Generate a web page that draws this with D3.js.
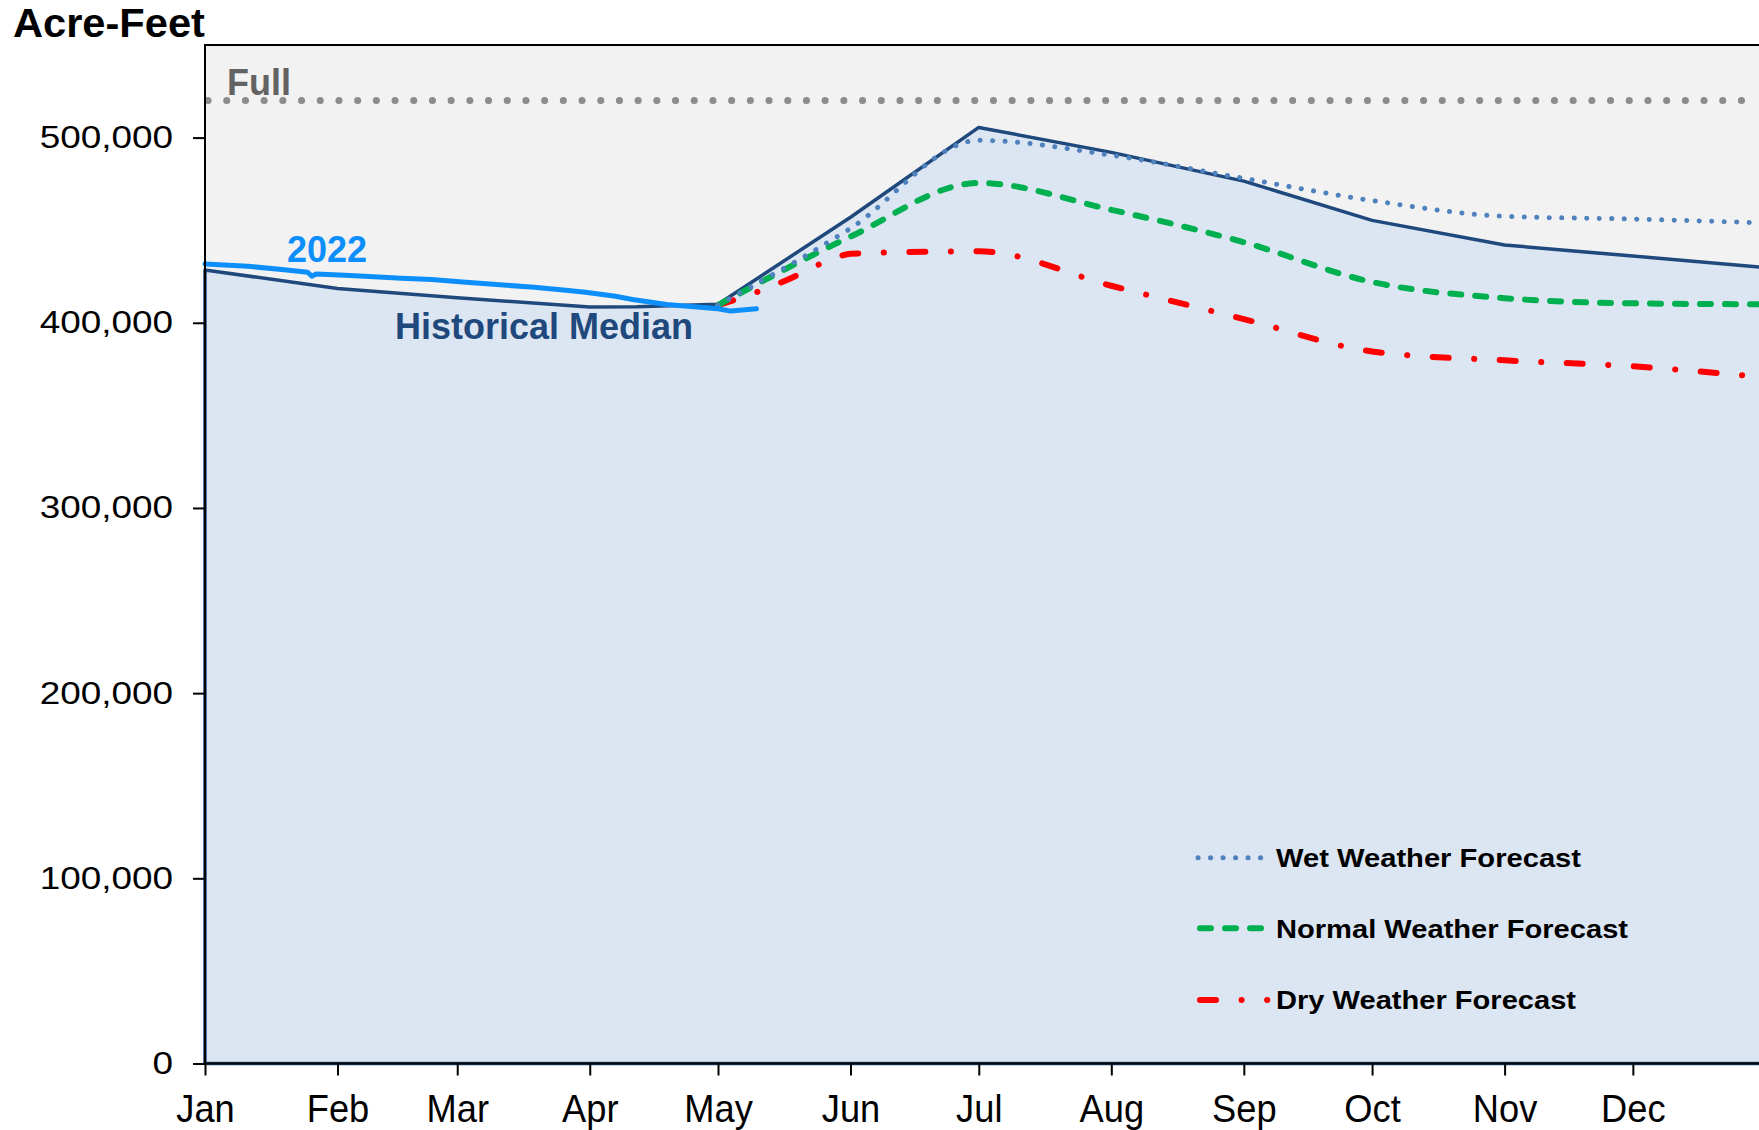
<!DOCTYPE html>
<html lang="en">
<head>
    <meta charset="UTF-8">
    <script src="https://d3js.org/d3.v7.min.js"></script>
    <style>
        body { margin: 0; background: #fff; }
        text { font-family: "Liberation Sans", Arial, sans-serif; }
    </style>
</head>
<body>
    <svg id="chart"></svg>
    <script>
        // values (acre-feet)
        const monthLabels = ["Jan", "Feb", "Mar", "Apr", "May", "Jun", "Jul", "Aug", "Sep", "Oct", "Nov", "Dec"];
        const yTicks = [0, 100000, 200000, 300000, 400000, 500000];
        const fullCapacity = 520000;

        const medianDates = ["2022-01-01", "2022-02-01", "2022-03-01", "2022-04-01", "2022-04-12", "2022-05-01", "2022-06-01",
            "2022-07-01", "2022-08-01", "2022-09-01", "2022-10-01", "2022-11-01", "2022-12-01", "2022-12-31"];
        const medianValues = [428500, 418500, 413500, 408500, 408600, 410000, 457000,
            505500, 492000, 476500, 455300, 442000, 436000, 430000];

        const obsDates = ["2022-01-01", "2022-01-11", "2022-01-19", "2022-01-25", "2022-01-26", "2022-01-27", "2022-02-04",
            "2022-02-16", "2022-02-23", "2022-03-03", "2022-03-11", "2022-03-19", "2022-03-27", "2022-03-31",
            "2022-04-07", "2022-04-11", "2022-04-19", "2022-05-01", "2022-05-04", "2022-05-10"];
        const obsValues = [431800, 430500, 428800, 427300, 425100, 426400, 425500,
            424100, 423400, 421900, 420500, 419200, 417400, 416500,
            414300, 412600, 409900, 407600, 406300, 407600];

        const forecastDates = ["2022-05-01", "2022-06-01", "2022-07-01", "2022-08-01", "2022-09-01",
            "2022-10-01", "2022-11-01", "2022-12-01", "2022-12-31"];
        const wetValues = [409500, 451000, 498500, 490500, 478000, 466000, 457500, 456000, 454000];
        const normalValues = [409500, 446500, 475500, 461000, 443500, 422000, 413300, 410500, 410000];

        const dryDates = ["2022-05-01", "2022-05-10", "2022-05-17", "2022-05-29", "2022-06-01", "2022-07-01",
            "2022-08-01", "2022-09-01", "2022-10-01", "2022-11-01", "2022-12-01", "2022-12-31"];
        const dryValues = [409500, 416500, 423000, 435500, 437300, 438600,
            420000, 402000, 384500, 379700, 376500, 370700];

        const parse = d3.timeParse("%Y-%m-%d");
        const zip = (ds, vs) => ds.map((d, i) => ({ date: parse(d), value: vs[i] }));

        const median = zip(medianDates, medianValues);
        const obs = zip(obsDates, obsValues);
        const wet = zip(forecastDates, wetValues);
        const normal = zip(forecastDates, normalValues);
        const dry = zip(dryDates, dryValues);

        const width = 1759, height = 1130;
        const plot = { left: 205, top: 45, bottom: 1063.5 };

        const svg = d3.select("#chart")
            .attr("width", width)
            .attr("height", height);

        const x = d3.scaleTime()
            .domain([parse("2022-01-01"), parse("2023-01-01")])
            .range([plot.left, plot.left + 365 * 4.275]);

        const y = d3.scaleLinear()
            .domain([0, 550000])
            .range([plot.bottom, plot.top]);

        // stretch / squeeze text horizontally to the reference widths
        function scaleText(sel, factor) {
            sel.each(function () {
                const w = this.getComputedTextLength();
                d3.select(this).attr("textLength", w * factor).attr("lengthAdjust", "spacingAndGlyphs");
            });
        }

        // plot background
        svg.append("rect")
            .attr("x", plot.left).attr("y", plot.top)
            .attr("width", width - plot.left).attr("height", plot.bottom - plot.top)
            .attr("fill", "#f2f2f2");

        // historical median area
        const area = d3.area()
            .x(d => x(d.date))
            .y0(y(0))
            .y1(d => y(d.value));

        svg.append("path")
            .datum(median)
            .attr("d", area)
            .attr("fill", "#dce6f2")
            .attr("stroke", "#1f497d")
            .attr("stroke-width", 3.5)
            .attr("stroke-linejoin", "round");

        // full capacity
        svg.append("line")
            .attr("x1", plot.left + 3).attr("x2", width)
            .attr("y1", y(fullCapacity)).attr("y2", y(fullCapacity))
            .attr("stroke", "#8c8c8c")
            .attr("stroke-width", 7)
            .attr("stroke-linecap", "round")
            .attr("stroke-dasharray", "0.1 18.6");

        svg.append("text")
            .attr("x", 227).attr("y", 95)
            .attr("font-size", 36).attr("font-weight", "bold")
            .attr("fill", "#636363")
            .text("Full");

        const line = d3.line().x(d => x(d.date)).y(d => y(d.value));
        const smooth = d3.line().x(d => x(d.date)).y(d => y(d.value)).curve(d3.curveMonotoneX);

        const styles = {
            wet: { color: "#4f81bd", width: 5, dash: "0.1 12.4" },
            normal: { color: "#00b050", width: 6, dash: "11 14" },
            dry: { color: "#ff0000", width: 6, dash: "16 25.5 0.1 25.5" }
        };

        [[dry, styles.dry], [normal, styles.normal], [wet, styles.wet]].forEach(([data, s]) => {
            svg.append("path")
                .datum(data)
                .attr("d", smooth)
                .attr("fill", "none")
                .attr("stroke", s.color)
                .attr("stroke-width", s.width)
                .attr("stroke-linecap", "round")
                .attr("stroke-dasharray", s.dash);
        });

        // 2022 observed
        svg.append("path")
            .datum(obs)
            .attr("d", line)
            .attr("fill", "none")
            .attr("stroke", "#0d8ffb")
            .attr("stroke-width", 5)
            .attr("stroke-linecap", "round")
            .attr("stroke-linejoin", "round");

        svg.append("text")
            .attr("x", 287).attr("y", 262)
            .attr("font-size", 36).attr("font-weight", "bold")
            .attr("fill", "#0d8ffb")
            .text("2022");

        svg.append("text")
            .attr("x", 395).attr("y", 339)
            .attr("font-size", 36).attr("font-weight", "bold")
            .attr("fill", "#1f497d")
            .text("Historical Median");

        // axes
        const yAxis = svg.append("g")
            .attr("transform", `translate(${plot.left},0)`)
            .call(d3.axisLeft(y).tickValues(yTicks).tickFormat(d3.format(",")).tickSize(12).tickPadding(20));
        yAxis.select(".domain").remove();
        yAxis.selectAll("line").attr("stroke", "#000").attr("stroke-width", 2);
        yAxis.selectAll("text")
            .attr("font-size", 31)
            .attr("font-family", "'Liberation Sans', Arial, sans-serif")
            .attr("fill", "#000")
            .call(scaleText, 1.19);

        const monthStarts = d3.timeMonth.range(parse("2022-01-01"), parse("2022-12-31"));
        const xAxis = svg.append("g")
            .attr("transform", `translate(0,${plot.bottom})`)
            .call(d3.axisBottom(x)
                .tickValues(monthStarts)
                .tickFormat((d, i) => monthLabels[i])
                .tickSize(12));
        xAxis.select(".domain").remove();
        xAxis.selectAll("line").attr("stroke", "#000").attr("stroke-width", 2);
        xAxis.selectAll("text")
            .attr("dy", null)
            .attr("y", 58)
            .attr("font-size", 39)
            .attr("font-family", "'Liberation Sans', Arial, sans-serif")
            .attr("fill", "#000")
            .call(scaleText, 0.93);

        // plot frame (top + left + bottom)
        svg.append("path")
            .attr("d", `M${width},${plot.top}H${plot.left}V${plot.bottom}H${width}`)
            .attr("fill", "none")
            .attr("stroke", "#000")
            .attr("stroke-width", 2);

        // y-axis title
        svg.append("text")
            .attr("x", 13).attr("y", 37)
            .attr("font-size", 40).attr("font-weight", "bold")
            .attr("fill", "#000")
            .text("Acre-Feet")
            .call(scaleText, 1.04);

        // legend
        const legendItems = [
            { name: "Wet Weather Forecast", s: styles.wet, y: 857.7, x2: 1261.5, w: 305 },
            { name: "Normal Weather Forecast", s: styles.normal, y: 928.3, x2: 1261, w: 352 },
            { name: "Dry Weather Forecast", s: styles.dry, y: 1000, x2: 1267.3, w: 300 }
        ];

        const legend = svg.append("g");
        legend.selectAll("line")
            .data(legendItems)
            .enter().append("line")
            .attr("x1", d => d.s === styles.wet ? 1198 : 1200)
            .attr("x2", d => d.x2)
            .attr("y1", d => d.y).attr("y2", d => d.y)
            .attr("stroke", d => d.s.color)
            .attr("stroke-width", d => d.s.width)
            .attr("stroke-linecap", "round")
            .attr("stroke-dasharray", d => d.s.dash);

        legend.selectAll("text")
            .data(legendItems)
            .enter().append("text")
            .attr("x", 1276)
            .attr("y", d => d.y + 9.3)
            .attr("font-size", 26.5).attr("font-weight", "bold")
            .attr("fill", "#000")
            .attr("textLength", d => d.w)
            .attr("lengthAdjust", "spacingAndGlyphs")
            .text(d => d.name);
    </script>
</body>
</html>
